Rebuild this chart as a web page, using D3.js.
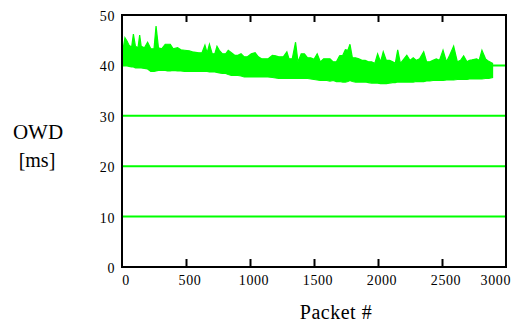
<!DOCTYPE html>
<html><head><meta charset="utf-8">
<script src="https://cdn.jsdelivr.net/npm/d3@7"></script>
<style>
html,body{margin:0;padding:0;background:#fff;}
svg{display:block;}
svg text{font-family:"Times New Roman",Tinos,"Liberation Serif","DejaVu Serif",serif !important;}
</style></head>
<body>
<script>
// Packet index samples and the upper/lower envelope of the OWD trace (ms)
const packets = [0,10,23,40,55,75,89,105,125,138,150,175,200,225,250,266,285,310,338,356,377,400,434,460,490,525,550,575,600,625,648,665,683,705,725,742,760,785,810,830,855,880,905,930,955,980,1010,1040,1065,1090,1115,1140,1175,1200,1225,1260,1288,1305,1330,1356,1375,1400,1425,1450,1475,1500,1525,1550,1575,1600,1625,1650,1675,1700,1725,1745,1765,1781,1800,1825,1850,1875,1900,1925,1950,1975,1997,2020,2041,2065,2090,2115,2135,2154,2175,2200,2225,2250,2275,2300,2325,2357,2380,2405,2430,2455,2480,2508,2535,2560,2591,2620,2645,2669,2695,2715,2735,2770,2790,2812,2840,2865,2895];
const owdHigh = [43.0,43.5,45.5,44.8,44.0,43.6,46.2,43.8,43.5,46.0,43.8,43.5,44.6,43.3,43.3,47.8,43.5,43.3,44.2,44.2,44.2,43.3,43.5,43.1,43.0,42.9,42.7,42.6,42.5,42.5,44.0,42.5,44.2,42.3,42.3,43.8,43.0,42.3,42.3,43.0,42.5,42.0,42.0,42.3,41.7,41.7,42.3,42.5,41.7,41.3,41.3,41.3,42.0,41.9,41.7,41.7,42.7,41.3,41.3,44.6,40.7,42.3,42.3,41.5,41.5,41.2,42.3,40.7,41.3,41.3,41.3,40.7,40.7,41.9,42.0,43.1,43.0,44.2,41.5,41.5,41.3,41.0,41.0,40.7,40.7,40.4,42.3,40.7,42.7,41.0,41.0,40.7,40.4,43.1,40.4,41.2,42.0,41.0,41.5,41.0,41.3,42.7,40.7,40.7,41.0,41.3,41.0,43.0,40.7,42.0,43.8,40.7,41.0,41.9,40.7,41.0,41.1,41.3,41.0,43.0,41.3,40.8,40.4];
const owdLow = [40.2,40.0,40.0,40.0,39.8,39.7,39.7,39.5,39.5,39.5,39.5,39.4,39.3,38.8,38.8,38.9,39.0,39.0,39.0,38.9,38.9,39.0,38.9,38.9,38.8,38.8,38.8,38.8,38.8,38.8,38.8,38.8,38.7,38.7,38.7,38.6,38.5,38.4,38.4,38.2,38.0,38.0,38.0,37.9,37.7,37.7,37.7,37.7,37.7,37.7,37.7,37.7,37.6,37.5,37.4,37.4,37.4,37.4,37.4,37.4,37.4,37.4,37.4,37.4,37.3,37.2,37.1,37.0,37.0,37.0,36.9,37.0,36.8,36.8,36.7,36.7,36.8,37.0,36.8,36.7,36.7,36.7,36.7,36.6,36.5,36.5,36.5,36.4,36.4,36.4,36.5,36.6,36.6,36.7,36.7,36.7,36.7,36.7,36.7,36.8,36.8,36.8,36.9,36.9,37.0,37.0,37.0,37.0,37.1,37.1,37.1,37.2,37.2,37.2,37.2,37.3,37.3,37.3,37.3,37.3,37.4,37.4,37.6];
const xTicks = [0,500,1000,1500,2000,2500,3000];
const yTicks = [0,10,20,30,40,50];
const yGrid = [10,20,30,40];
const xTitle = "Packet #";
const yTitle1 = "OWD";
const yTitle2 = "[ms]";

const W = 513, H = 323;
const m = {left:122, top:15, right:7, bottom:56};
const svg = d3.select("body").append("svg").attr("width",W).attr("height",H);
const xs = d3.scaleLinear().domain([0,3000]).range([m.left, W-m.right]);
const ys = d3.scaleLinear().domain([0,50]).range([H-m.bottom, m.top]);
const GREEN = "#00ff00";

svg.append("defs").append("clipPath").attr("id","plot")
  .append("rect").attr("x",xs(0)).attr("y",ys(50)).attr("width",xs(3000)-xs(0)).attr("height",ys(0)-ys(50));

// gridlines
svg.append("g").selectAll("line").data(yGrid).join("line")
  .attr("x1",xs(0)).attr("x2",xs(3000)).attr("y1",d=>ys(d)).attr("y2",d=>ys(d))
  .attr("stroke",GREEN).attr("stroke-width",2);

// data band
const n = Math.min(packets.length, owdHigh.length, owdLow.length);
const data = packets.slice(0,n).map((p,i)=>({p, hi:owdHigh[i], lo:owdLow[i]}));
const area = d3.area().x(d=>xs(d.p)).y0(d=>ys(d.lo)).y1(d=>ys(d.hi));
svg.append("path").datum(data).attr("d",area).attr("clip-path","url(#plot)")
  .attr("fill",GREEN).attr("stroke",GREEN).attr("stroke-width",1.2).attr("stroke-linejoin","miter");

// frame axes
const topAxis = d3.axisTop(xs).tickValues(xTicks.slice(1,-1)).tickSize(-7).tickFormat("");
const botAxis = d3.axisBottom(xs).tickValues(xTicks.slice(1,-1)).tickSize(-8).tickFormat("");
const gt = svg.append("g").attr("transform",`translate(0,${ys(50)})`).call(topAxis);
const gb = svg.append("g").attr("transform",`translate(0,${ys(0)})`).call(botAxis);
[gt,gb].forEach(g=>{
  g.select(".domain").remove();
  g.selectAll(".tick line").attr("stroke","#000").attr("stroke-width",2);
});
const frame = svg.append("g").attr("stroke","#000").attr("stroke-width",2).attr("stroke-linecap","square");
frame.append("line").attr("x1",xs(0)).attr("x2",xs(3000)).attr("y1",ys(50)).attr("y2",ys(50));
frame.append("line").attr("x1",xs(0)).attr("x2",xs(3000)).attr("y1",ys(0)).attr("y2",ys(0));
frame.append("line").attr("x1",xs(0)).attr("x2",xs(0)).attr("y1",ys(50)).attr("y2",ys(0));
frame.append("line").attr("x1",xs(3000)).attr("x2",xs(3000)).attr("y1",ys(50)).attr("y2",ys(0));

// tick labels
svg.append("g").selectAll("text").data(yTicks).join("text")
  .attr("fill","#000")
  .attr("x",xs(0)-7).attr("y",d=>ys(d)+6).attr("text-anchor","end")
  .attr("font-size",14).attr("letter-spacing","0.6px").text(d=>d);
svg.append("g").selectAll("text").data(xTicks).join("text")
  .attr("fill","#000")
  .attr("x",d=> d===3000 ? xs(d)+5 : xs(d)+4).attr("y",285)
  .attr("text-anchor",d=> d===3000 ? "end" : "middle")
  .attr("font-size",14).attr("letter-spacing","0.6px").text(d=>d);

// titles
svg.append("text").attr("x",336).attr("y",319).attr("text-anchor","middle").attr("font-size",20).attr("letter-spacing","0.5px").text(xTitle);
svg.append("text").attr("x",38).attr("y",139).attr("text-anchor","middle").attr("font-size",21).text(yTitle1);
svg.append("text").attr("x",37).attr("y",167).attr("text-anchor","middle").attr("font-size",20).text(yTitle2);
</script>
</body></html>
